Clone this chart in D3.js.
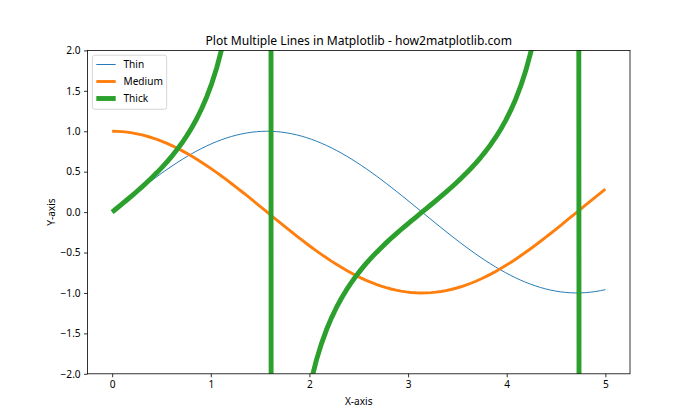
<!DOCTYPE html>
<html>
<head>
<meta charset="utf-8">
<script src="https://cdn.jsdelivr.net/npm/d3@7"></script>
<style>
  html, body { margin: 0; padding: 0; background: #fff; }
  svg { display: block; }
  text { font-family: "Noto Sans", "DejaVu Sans", sans-serif; fill: #000; }
</style>
</head>
<body>
<svg id="chart" width="700" height="420"></svg>
<script>
// ---- data ----
const xValues = [0,0.0505,0.1010,0.1515,0.2020,0.2525,0.3030,0.3535,0.4040,0.4545,
0.5051,0.5556,0.6061,0.6566,0.7071,0.7576,0.8081,0.8586,0.9091,0.9596,
1.0101,1.0606,1.1111,1.1616,1.2121,1.2626,1.3131,1.3636,1.4141,1.4646,
1.5152,1.5657,1.6162,1.6667,1.7172,1.7677,1.8182,1.8687,1.9192,1.9697,
2.0202,2.0707,2.1212,2.1717,2.2222,2.2727,2.3232,2.3737,2.4242,2.4747,
2.5253,2.5758,2.6263,2.6768,2.7273,2.7778,2.8283,2.8788,2.9293,2.9798,
3.0303,3.0808,3.1313,3.1818,3.2323,3.2828,3.3333,3.3838,3.4343,3.4848,
3.5354,3.5859,3.6364,3.6869,3.7374,3.7879,3.8384,3.8889,3.9394,3.9899,
4.0404,4.0909,4.1414,4.1919,4.2424,4.2929,4.3434,4.3939,4.4444,4.4949,
4.5455,4.5960,4.6465,4.6970,4.7475,4.7980,4.8485,4.8990,4.9495,5.0000];

const thinValues = [0,0.0505,0.1008,0.1509,0.2006,0.2499,0.2984,0.3462,0.3931,0.4391,
0.4839,0.5274,0.5696,0.6104,0.6496,0.6872,0.7230,0.7569,0.7889,0.8190,
0.8469,0.8727,0.8962,0.9174,0.9364,0.9529,0.9670,0.9786,0.9878,0.9944,
0.9985,1.0000,0.9990,0.9954,0.9893,0.9807,0.9696,0.9560,0.9399,0.9215,
0.9007,0.8776,0.8523,0.8248,0.7952,0.7636,0.7300,0.6946,0.6574,0.6185,
0.5781,0.5361,0.4928,0.4483,0.4026,0.3558,0.3082,0.2598,0.2107,0.1611,
0.1111,0.0607,0.0103,-0.0402,-0.0906,-0.1408,-0.1906,-0.2399,-0.2886,-0.3366,
-0.3837,-0.4298,-0.4748,-0.5187,-0.5612,-0.6022,-0.6418,-0.6797,-0.7158,-0.7502,
-0.7826,-0.8130,-0.8414,-0.8676,-0.8916,-0.9133,-0.9327,-0.9497,-0.9643,-0.9765,
-0.9861,-0.9932,-0.9978,-0.9999,-0.9994,-0.9963,-0.9908,-0.9826,-0.9720,-0.9589];

const mediumValues = [1.0000,0.9987,0.9949,0.9885,0.9797,0.9683,0.9544,0.9382,0.9195,0.8985,
0.8752,0.8496,0.8219,0.7921,0.7603,0.7265,0.6909,0.6535,0.6145,0.5739,
0.5318,0.4883,0.4437,0.3979,0.3510,0.3033,0.2548,0.2057,0.1560,0.1060,
0.0556,0.0051,-0.0454,-0.0957,-0.1459,-0.1956,-0.2449,-0.2935,-0.3414,-0.3884,
-0.4344,-0.4793,-0.5230,-0.5654,-0.6063,-0.6457,-0.6834,-0.7194,-0.7536,-0.7858,
-0.8160,-0.8441,-0.8701,-0.8939,-0.9154,-0.9345,-0.9513,-0.9657,-0.9775,-0.9869,
-0.9938,-0.9982,-0.9999,-0.9992,-0.9959,-0.9900,-0.9817,-0.9708,-0.9575,-0.9417,
-0.9235,-0.9029,-0.8801,-0.8550,-0.8277,-0.7983,-0.7669,-0.7335,-0.6983,-0.6613,
-0.6225,-0.5822,-0.5405,-0.4973,-0.4529,-0.4073,-0.3606,-0.3131,-0.2648,-0.2157,
-0.1662,-0.1162,-0.0659,-0.0154,0.0351,0.0855,0.1357,0.1855,0.2349,0.2837];

const thickValues = [0,0.0505,0.1014,0.1527,0.2048,0.2580,0.3127,0.3690,0.4276,0.4887,
0.5529,0.6208,0.6931,0.7706,0.8544,0.9458,1.0464,1.1582,1.2840,1.4271,
1.5926,1.7870,2.0200,2.3060,2.6674,3.1416,3.7947,4.7579,6.3312,9.3852,
17.953,194.59,-22.028,-10.399,-6.7829,-5.0134,-3.9595,-3.2570,-2.7532,-2.3725,
-2.0733,-1.8309,-1.6295,-1.4588,-1.3116,-1.1826,-1.0682,-0.9655,-0.8724,-0.7871,
-0.7084,-0.6351,-0.5664,-0.5015,-0.4398,-0.3808,-0.3240,-0.2690,-0.2155,-0.1632,
-0.1118,-0.0609,-0.0103,0.0402,0.0910,0.1422,0.1941,0.2471,0.3014,0.3574,
0.4155,0.4760,0.5395,0.6066,0.6780,0.7544,0.8368,0.9266,1.0251,1.1344,
1.2571,1.3964,1.5568,1.7446,1.9688,2.2425,2.5862,3.0333,3.6424,4.5263,
5.9346,8.5502,15.147,64.852,-28.490,-11.655,-7.302,-5.297,-4.138,-3.381];

const seriesNames = ["Thin", "Medium", "Thick"];
const xTicks = [0, 1, 2, 3, 4, 5];
const yTicks = [-2.0, -1.5, -1.0, -0.5, 0.0, 0.5, 1.0, 1.5, 2.0];
const titleText = "Plot Multiple Lines in Matplotlib - how2matplotlib.com";
const xLabelText = "X-axis";
const yLabelText = "Y-axis";

// ---- layout ----
const mLeft = 87.5, mRight = 630, mTop = 50.4, mBottom = 373.8;
const colors = ["#1f77b4", "#ff7f0e", "#2ca02c"];
const widths = [0.97, 2.9, 4.9];
const fs = 10.1;

const svg = d3.select("#chart");
const x = d3.scaleLinear().domain([-0.25, 5.25]).range([mLeft, mRight]);
const y = d3.scaleLinear().domain([-2, 2]).range([mBottom, mTop]);

svg.append("defs").append("clipPath").attr("id", "clip")
  .append("rect").attr("x", mLeft).attr("y", mTop)
  .attr("width", mRight - mLeft).attr("height", mBottom - mTop);

const data = [thinValues, mediumValues, thickValues];
const line = d3.line().x((d, i) => x(xValues[i])).y(d => y(d));
const plot = svg.append("g").attr("clip-path", "url(#clip)");
data.forEach((vals, k) => {
  plot.append("path").datum(vals)
    .attr("d", line)
    .attr("fill", "none")
    .attr("stroke", colors[k])
    .attr("stroke-width", widths[k])
    .attr("stroke-linejoin", "round")
    .attr("stroke-linecap", "butt");
});

// axes
const fmtY = d => d3.format(".1f")(d).replace("-", "\u2212");
const xAxis = d3.axisBottom(x).tickValues(xTicks).tickFormat(d3.format("d"))
  .tickSizeInner(3.5).tickSizeOuter(0).tickPadding(3.4);
const yAxis = d3.axisLeft(y).tickValues(yTicks).tickFormat(fmtY)
  .tickSizeInner(3.5).tickSizeOuter(0).tickPadding(3.4);

const gx = svg.append("g").attr("transform", `translate(0,${mBottom})`).call(xAxis);
const gy = svg.append("g").attr("transform", `translate(${mLeft},0)`).call(yAxis);
[gx, gy].forEach(g => {
  g.select(".domain").remove();
  g.selectAll(".tick line").attr("stroke", "#000").attr("stroke-width", 0.8);
  g.selectAll(".tick text").attr("font-size", fs).attr("fill", "#000")
    .style("font-family", '"Noto Sans", "DejaVu Sans", sans-serif');
});

// frame
svg.append("rect").attr("x", mLeft).attr("y", mTop)
  .attr("width", mRight - mLeft).attr("height", mBottom - mTop)
  .attr("fill", "none").attr("stroke", "#000").attr("stroke-width", 0.8);

// title & labels
svg.append("text").attr("x", (mLeft + mRight) / 2).attr("y", mTop - 5.8)
  .attr("text-anchor", "middle").attr("font-size", 12.1).text(titleText);
svg.append("text").attr("x", (mLeft + mRight) / 2).attr("y", 404.5)
  .attr("text-anchor", "middle").attr("font-size", fs).text(xLabelText);
svg.append("text").attr("transform", `translate(55,${(mTop + mBottom) / 2}) rotate(-90)`)
  .attr("text-anchor", "middle").attr("font-size", fs).text(yLabelText);

// legend
const lg = svg.append("g");
lg.append("rect").attr("x", 92.4).attr("y", 55.2).attr("width", 74.3).attr("height", 54.1)
  .attr("rx", 2.5).attr("fill", "#fff").attr("fill-opacity", 0.8)
  .attr("stroke", "#cccccc").attr("stroke-width", 0.8);
seriesNames.forEach((name, k) => {
  const cy = 64.5 + k * 17;
  lg.append("line").attr("x1", 96.3).attr("x2", 115.7).attr("y1", cy).attr("y2", cy)
    .attr("stroke", colors[k]).attr("stroke-width", widths[k]);
  lg.append("text").attr("x", 123.5).attr("y", cy).attr("dy", "0.35em")
    .attr("font-size", fs).text(name);
});
</script>
</body>
</html>
